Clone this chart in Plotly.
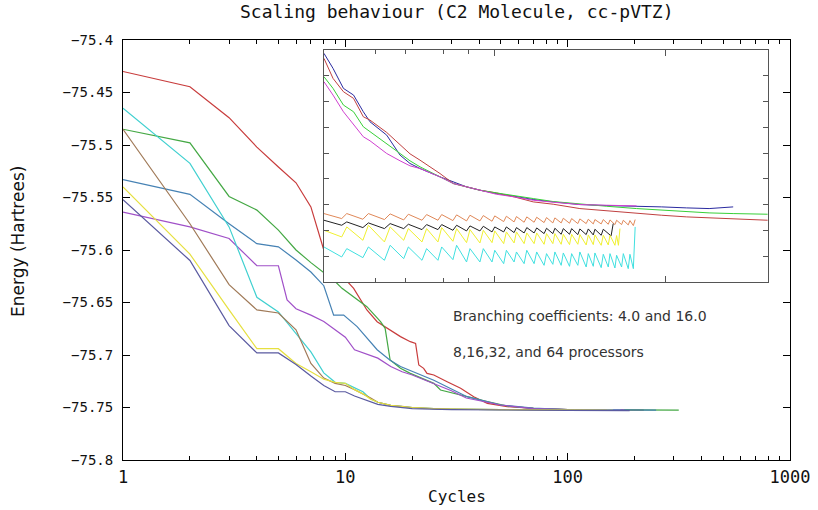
import numpy as np
import plotly.graph_objects as go

# ---------------- main plot data (Cycles vs Energy) ----------------
red_x = [1, 2, 3, 4, 5, 6, 7, 8, 9, 10, 10.9, 12.5, 13.9, 15.4, 17.7, 19.6, 20.7, 21.4, 22.5, 23.3, 25, 28.7, 33, 37.8, 43.5, 53.5, 70.5, 100, 150, 220]
red_y = [-75.430, -75.4445, -75.474, -75.502, -75.521, -75.536, -75.559, -75.600, -75.615, -75.628, -75.6365, -75.6571, -75.6683, -75.6746, -75.6825, -75.6873, -75.6889, -75.7095, -75.7127, -75.7175, -75.719, -75.7254, -75.7317, -75.7397, -75.746, -75.7492, -75.7508, -75.752, -75.7524, -75.7525]

green_x = [1, 2, 3, 4, 5, 6, 7, 8, 9, 9.66, 12.5, 14.4, 15.1, 15.9, 17.7, 19.6, 25, 26.8, 35.3, 43.5, 53.5, 70, 100, 150, 220, 316]
green_y = [-75.485, -75.498, -75.549, -75.562, -75.581, -75.600, -75.612, -75.622, -75.630, -75.6365, -75.654, -75.6683, -75.6746, -75.7048, -75.7127, -75.7175, -75.727, -75.7333, -75.7397, -75.7444, -75.7486, -75.7508, -75.752, -75.7524, -75.7525, -75.7525]

steel_x = [1, 2, 3, 4, 5, 6, 7, 8, 8.86, 9.83, 11.3, 13.9, 15.9, 17.7, 25, 35.3, 49.9, 70, 100, 150, 250]
steel_y = [-75.533, -75.547, -75.575, -75.594, -75.597, -75.6095, -75.621, -75.634, -75.662, -75.662, -75.673, -75.695, -75.705, -75.711, -75.724, -75.7397, -75.7476, -75.7505, -75.752, -75.7525, -75.7525]

violet_x = [1, 2, 3, 4, 5, 5.47, 6, 7, 8, 9, 10, 11, 12, 13, 14, 16, 18, 20, 25, 30, 35, 43, 50, 70, 100, 180]
violet_y = [-75.564, -75.578, -75.589, -75.615, -75.615, -75.6476, -75.656, -75.662, -75.668, -75.676, -75.683, -75.695, -75.698, -75.701, -75.703, -75.711, -75.716, -75.719, -75.727, -75.734, -75.741, -75.745, -75.7476, -75.751, -75.752, -75.7525]

cyan_x = [1, 2, 3, 4, 5, 6, 7, 8, 9, 10, 11, 12, 13, 14, 16, 18, 20, 25, 30, 50, 100, 173]
cyan_y = [-75.465, -75.5175, -75.578, -75.645, -75.659, -75.680, -75.697, -75.717, -75.726, -75.727, -75.731, -75.735, -75.742, -75.745, -75.748, -75.749, -75.750, -75.751, -75.7515, -75.752, -75.7528, -75.7528]

brown_x = [1, 2, 3, 4, 5, 6, 7, 8, 9, 10, 11, 12, 13, 14, 16, 18, 20, 25, 30, 50, 100, 150]
brown_y = [-75.485, -75.575, -75.633, -75.657, -75.660, -75.676, -75.708, -75.722, -75.727, -75.729, -75.733, -75.737, -75.741, -75.745, -75.748, -75.749, -75.750, -75.751, -75.7515, -75.752, -75.7527, -75.7527]

yellow_x = [1, 2, 3, 4, 5, 6, 7, 8, 9, 10, 11, 12, 13, 14, 16, 18, 20, 25, 30, 50, 100, 160]
yellow_y = [-75.540, -75.604, -75.657, -75.694, -75.694, -75.708, -75.716, -75.723, -75.726, -75.727, -75.733, -75.737, -75.742, -75.745, -75.748, -75.749, -75.750, -75.751, -75.7515, -75.752, -75.7527, -75.7527]

slate_x = [1, 2, 3, 4, 5, 6, 7, 8, 9, 10, 11, 12, 13, 14, 16, 20, 30, 50, 100, 190]
slate_y = [-75.552, -75.610, -75.672, -75.698, -75.698, -75.709, -75.720, -75.729, -75.735, -75.735, -75.739, -75.742, -75.745, -75.747, -75.749, -75.751, -75.752, -75.7525, -75.7528, -75.753]

# ---------------- inset data ----------------
ins_top_x = [1.0, 1.13, 1.3, 1.49, 1.7, 1.86, 2.33, 2.79, 3.19, 3.65, 4.78, 5.72, 6.84, 8.19, 10.2, 13, 16.8, 22, 31.5, 45, 67.7, 95, 133, 180, 249, 320, 396]
ins_blue = [-75.7451, -75.74555, -75.74615, -75.74635, -75.74685, -75.74715, -75.74755, -75.74815, -75.7484, -75.74855, -75.7488, -75.74895, -75.7491, -75.7492, -75.7493, -75.74938, -75.74948, -75.74955, -75.74963, -75.74966, -75.74967, -75.7497, -75.74973, -75.74975, -75.7497]
ins_red = [-75.74525, -75.74585, -75.74625, -75.74645, -75.747, -75.7471, -75.74747, -75.74785, -75.74811, -75.7483, -75.7487, -75.749, -75.7491, -75.7492, -75.74928, -75.7494, -75.74955, -75.74962, -75.74975, -75.74982, -75.7499, -75.74995, -75.75, -75.75003, -75.75005, -75.75008, -75.7501]
ins_green = [-75.7458, -75.74615, -75.74665, -75.74685, -75.7473, -75.74745, -75.7478, -75.7481, -75.74832, -75.7485, -75.7488, -75.749, -75.7491, -75.7492, -75.74928, -75.74937, -75.74945, -75.74954, -75.74962, -75.74968, -75.74975, -75.7498, -75.74985, -75.74988, -75.7499, -75.74991, -75.74992]
ins_magenta = [-75.74595, -75.74635, -75.74685, -75.74725, -75.7476, -75.74772, -75.7481, -75.74832, -75.74847, -75.74855, -75.7488, -75.749, -75.7491, -75.7492, -75.74932, -75.7494, -75.7495, -75.74956, -75.74963, -75.74965, -75.74967]

tooth_trough_x = [1.27, 1.69, 2.26, 2.93, 3.75, 4.65, 5.69, 6.84, 8.19, 9.64, 11.28, 12.98, 14.86, 17.0, 19.45, 21.89, 24.49, 27.41, 30.66, 34.31, 37.75, 42.01, 46.21, 50.55, 55.31, 60.5]
tooth_peak_x = [1.36, 1.82, 2.44, 3.12, 3.99, 4.89, 5.98, 7.16, 8.57, 10.0, 11.7, 13.4, 15.4, 17.6, 20.1, 22.5, 25.2, 28.2, 31.5, 35.3, 38.6, 43.2, 47.3, 51.7, 56.6, 61.9]

cyan_start = -75.7509
cyan_troughs = [-75.7512, -75.75122, -75.7513, -75.75125, -75.7513, -75.7513, -75.75128, -75.75135, -75.75135, -75.75135, -75.7514, -75.75135, -75.7514, -75.7514, -75.75145, -75.75142, -75.75145, -75.75148, -75.75145, -75.7515, -75.75148, -75.75152, -75.7515, -75.75153, -75.7515, -75.75155]
cyan_peaks = [-75.75095, -75.7509, -75.75085, -75.7509, -75.75095, -75.7509, -75.75085, -75.75095, -75.75095, -75.751, -75.751, -75.75105, -75.751, -75.75105, -75.7511, -75.75105, -75.75108, -75.7511, -75.75105, -75.7511, -75.75108, -75.75112, -75.7511, -75.75115, -75.7511, -75.75112]
cyan_end_x = [64.8, 66.4]
cyan_end_y = [-75.75155, -75.7503]

yellow_start = -75.7504
yellow_troughs = [-75.7506, -75.7507, -75.75075, -75.7507, -75.75075, -75.75075, -75.75073, -75.75077, -75.75078, -75.75077, -75.7508, -75.75078, -75.7508, -75.7508, -75.75082, -75.7508, -75.75082, -75.75083, -75.75082, -75.75084, -75.75083, -75.75085, -75.75084, -75.75085]
yellow_peaks = [-75.7503, -75.75025, -75.7503, -75.75035, -75.75035, -75.75032, -75.75035, -75.75038, -75.7504, -75.75042, -75.75045, -75.75045, -75.75048, -75.75048, -75.7505, -75.7505, -75.75052, -75.75052, -75.75053, -75.75054, -75.75054, -75.75055, -75.75055, -75.75056]
yellow_end_x = [53.0, 54.1]
yellow_end_y = [-75.75085, -75.75035]

black_start = -75.7501
black_troughs = [-75.75025, -75.75032, -75.75035, -75.75035, -75.75038, -75.75038, -75.7504, -75.75042, -75.75042, -75.75045, -75.75045, -75.75047, -75.75048, -75.75048, -75.7505, -75.7505, -75.75052, -75.75052, -75.75053, -75.75053, -75.75054, -75.75055]
black_peaks = [-75.75015, -75.75018, -75.7502, -75.75022, -75.75023, -75.75023, -75.75025, -75.75027, -75.75028, -75.7503, -75.7503, -75.75032, -75.75032, -75.75033, -75.75034, -75.75034, -75.75035, -75.75035, -75.75036, -75.75036, -75.75037, -75.75037]
black_end_x = [48.0, 49.4]
black_end_y = [-75.75057, -75.7502]

orange_start = -75.7499
orange_troughs = [-75.75005, -75.75007, -75.75008, -75.75009, -75.7501, -75.7501, -75.75011, -75.75012, -75.75012, -75.75013, -75.75014, -75.75015, -75.75016, -75.75016, -75.75017, -75.75018, -75.75018, -75.75019, -75.7502, -75.7502, -75.75021, -75.75021, -75.75022, -75.75023, -75.75023, -75.75024]
orange_peaks = [-75.7499, -75.7499, -75.74991, -75.74992, -75.74993, -75.74993, -75.74994, -75.74995, -75.74996, -75.74997, -75.74998, -75.74999, -75.75, -75.75001, -75.75002, -75.75003, -75.75004, -75.75005, -75.75006, -75.75007, -75.75008, -75.75008, -75.75009, -75.7501, -75.7501, -75.75011]
orange_end_x = [64.8, 66.4]
orange_end_y = [-75.75026, -75.75008]

x_major = [1, 10, 100, 1000]
x_major_text = ["1", "10", "100", "1000"]
x_minor = [m * d for d in (1, 10, 100) for m in range(2, 10)]
y_ticks = [-75.8, -75.75, -75.7, -75.65, -75.6, -75.55, -75.5, -75.45, -75.4]
y_tick_text = ["\u221275.8", "\u221275.75", "\u221275.7", "\u221275.65", "\u221275.6", "\u221275.55", "\u221275.5", "\u221275.45", "\u221275.4"]


def sawtooth(start, troughs, peaks, end_x, end_y):
    n = len(troughs)
    xs, ys = [1.0], [start]
    for k in range(n):
        xs += [tooth_trough_x[k], tooth_peak_x[k]]
        ys += [troughs[k], peaks[k]]
    return xs + end_x, ys + end_y


fig = go.Figure()

main_series = [
    (red_x, red_y, "#c83c3c"),
    (green_x, green_y, "#44a844"),
    (steel_x, steel_y, "#4682b4"),
    (violet_x, violet_y, "#a050c8"),
    (cyan_x, cyan_y, "#40d0d0"),
    (brown_x, brown_y, "#a07a58"),
    (yellow_x, yellow_y, "#e6e040"),
    (slate_x, slate_y, "#5a5aa0"),
]
for xs, ys, c in main_series:
    fig.add_trace(go.Scatter(x=xs, y=ys, mode="lines", line=dict(color=c, width=1.2),
                             xaxis="x", yaxis="y", showlegend=False, hoverinfo="skip"))

inset_series = [
    (ins_top_x[:len(ins_blue)], ins_blue, "#2a2aa0"),
    (ins_top_x[:len(ins_red)], ins_red, "#c04040"),
    (ins_top_x[:len(ins_green)], ins_green, "#38d038"),
    (ins_top_x[:len(ins_magenta)], ins_magenta, "#d040d0"),
]
bx, by = sawtooth(orange_start, orange_troughs, orange_peaks, orange_end_x, orange_end_y)
inset_series.append((bx, by, "#e08858"))
bx, by = sawtooth(black_start, black_troughs, black_peaks, black_end_x, black_end_y)
inset_series.append((bx, by, "#222222"))
bx, by = sawtooth(yellow_start, yellow_troughs, yellow_peaks, yellow_end_x, yellow_end_y)
inset_series.append((bx, by, "#f0f030"))
bx, by = sawtooth(cyan_start, cyan_troughs, cyan_peaks, cyan_end_x, cyan_end_y)
inset_series.append((bx, by, "#40e0e0"))
for xs, ys, c in inset_series:
    fig.add_trace(go.Scatter(x=xs, y=ys, mode="lines", line=dict(color=c, width=1),
                             xaxis="x2", yaxis="y2", showlegend=False, hoverinfo="skip"))

mono = "DejaVu Sans Mono"
fig.update_layout(
    width=818, height=510,
    margin=dict(l=123, r=28, t=40, b=50),
    paper_bgcolor="white", plot_bgcolor="white",
    xaxis=dict(type="log", range=[0, 3], domain=[0, 1], anchor="y", automargin=False,
               showline=True, linecolor="black", linewidth=1, mirror="ticks",
               ticks="inside", ticklen=7, tickcolor="black",
               tickmode="array", tickvals=x_major, ticktext=x_major_text,
               minor=dict(ticks="inside", ticklen=4, tickcolor="black", tickmode="array", tickvals=x_minor),
               showgrid=False, zeroline=False, ticklabelstandoff=2,
               tickfont=dict(family=mono, size=17, color="#111")),
    yaxis=dict(range=[-75.8, -75.4], domain=[0, 1], anchor="x", automargin=False,
               showline=True, linecolor="black", linewidth=1, mirror="ticks",
               ticks="inside", ticklen=7, tickcolor="black",
               tickmode="array", tickvals=y_ticks, ticktext=y_tick_text,
               showgrid=False, zeroline=False, ticklabelstandoff=6,
               tickfont=dict(family=mono, size=14, color="#111")),
    xaxis2=dict(type="log", range=[0, 2.6], domain=[0.3013, 0.967], anchor="y2",
                showline=True, linecolor="#555", linewidth=1, mirror="ticks",
                ticks="inside", ticklen=6, tickcolor="#555",
                tickmode="array", tickvals=[10, 100], showticklabels=False,
                minor=dict(ticks="inside", ticklen=4, tickcolor="#555", tickmode="array", tickvals=[2, 3, 5, 7]),
                showgrid=False, zeroline=False),
    yaxis2=dict(range=[-75.75195, -75.745], domain=[0.4238, 0.9762], anchor="x2",
                showline=True, linecolor="#555", linewidth=1, mirror="ticks",
                ticks="inside", ticklen=5, tickcolor="#555",
                tickmode="linear", tick0=-75.745, dtick=0.000772, showticklabels=False,
                showgrid=False, zeroline=False),
    annotations=[
        dict(text="Scaling behaviour (C2 Molecule, cc-pVTZ)", xref="paper", yref="paper",
             x=0.5, y=1.0667, xanchor="center", yanchor="middle", showarrow=False,
             font=dict(family=mono, size=18, color="#111")),
        dict(text="Cycles", xref="paper", yref="paper", x=0.5, y=-0.088,
             xanchor="center", yanchor="middle", showarrow=False,
             font=dict(family=mono, size=16, color="#111")),
        dict(text="Energy (Hartrees)", xref="paper", yref="paper", x=-0.1574, y=0.519,
             xanchor="center", yanchor="middle", textangle=-90, showarrow=False,
             font=dict(family="DejaVu Sans", size=17, color="#111")),
        dict(text="Branching coefficients: 4.0 and 16.0", xref="x", yref="y",
             x=np.log10(30), y=-75.663, xanchor="left", yanchor="middle", showarrow=False,
             font=dict(family="DejaVu Sans", size=14, color="#333")),
        dict(text="8,16,32, and 64 processors", xref="x", yref="y",
             x=np.log10(30), y=-75.697, xanchor="left", yanchor="middle", showarrow=False,
             font=dict(family="DejaVu Sans", size=14, color="#333")),
    ],
)

fig.write_html("out.html", config={"displayModeBar": False},
               post_script="document.body.style.margin='0px';")
